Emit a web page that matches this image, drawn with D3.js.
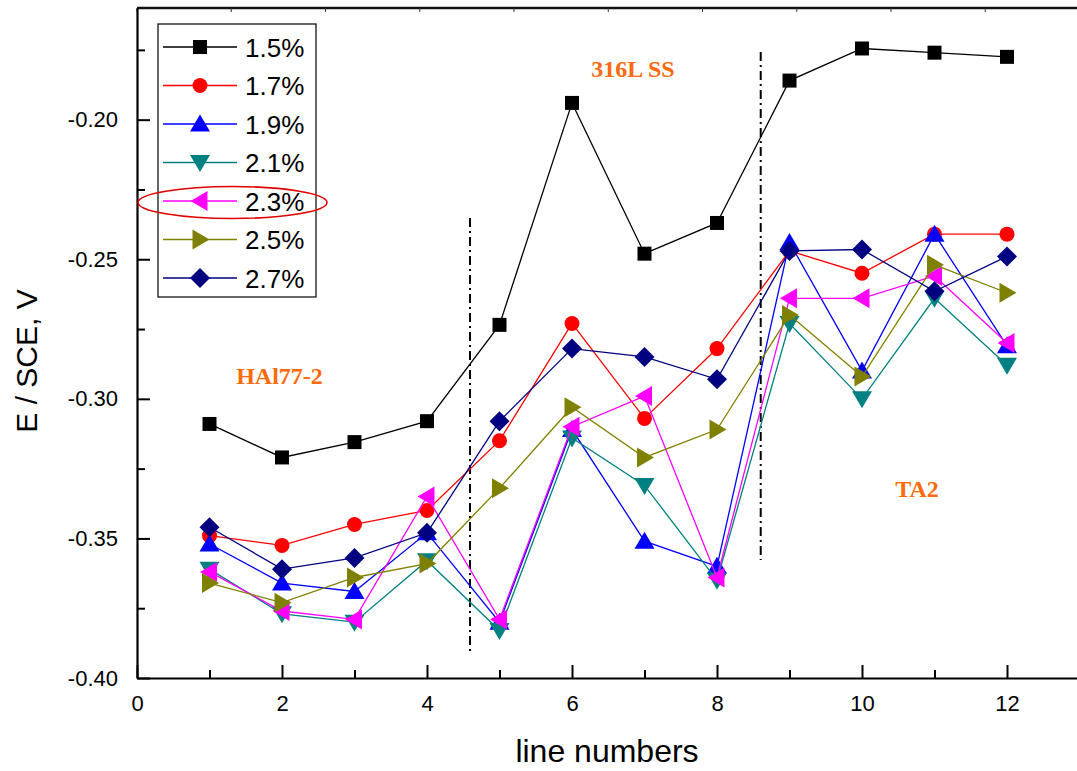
<!DOCTYPE html>
<html>
<head>
<meta charset="utf-8">
<script src="https://cdn.jsdelivr.net/npm/d3@7"></script>
<style>
  html, body { margin: 0; padding: 0; background: #fff; }
  svg { display: block; }
</style>
</head>
<body>
<svg id="chart" width="1077" height="771"></svg>
<script>
// Open-circuit potential per line number for each composition
const lineNumbers = [1, 2, 3, 4, 5, 6, 7, 8, 9, 10, 11, 12];
const seriesNames = ["1.5%", "1.7%", "1.9%", "2.1%", "2.3%", "2.5%", "2.7%"];
const s15 = [-0.309, -0.321, -0.3155, -0.308, -0.2735, -0.194, -0.248, -0.237, -0.186, -0.1745, -0.176, -0.1775];
const s17 = [-0.349, -0.3525, -0.345, -0.340, -0.315, -0.273, -0.307, -0.282, -0.247, -0.255, -0.241, -0.241];
const s19 = [-0.352, -0.366, -0.369, -0.348, -0.380, -0.311, -0.351, -0.360, -0.244, -0.290, -0.241, -0.281];
const s21 = [-0.361, -0.377, -0.380, -0.358, -0.383, -0.314, -0.331, -0.365, -0.273, -0.300, -0.264, -0.288];
const s23 = [-0.362, -0.376, -0.379, -0.335, -0.379, -0.310, -0.299, -0.364, -0.264, -0.264, -0.256, -0.280];
const s25 = [-0.366, -0.373, -0.364, -0.359, -0.332, -0.303, -0.321, -0.311, -0.270, -0.292, -0.252, -0.262];
const s27 = [-0.346, -0.361, -0.357, -0.348, -0.308, -0.282, -0.285, -0.293, -0.247, -0.2465, -0.2615, -0.249];
const seriesValues = [s15, s17, s19, s21, s23, s25, s27];

const xTickValues = [0, 2, 4, 6, 8, 10, 12];
const xMinorValues = [1, 3, 5, 7, 9, 11];
const yTickValues = [-0.40, -0.35, -0.30, -0.25, -0.20];
const yMinorValues = [-0.375, -0.325, -0.275, -0.225, -0.175];

// Region separators (x, y from, y to) and region labels
const separators = [[4.593, -0.2352, -0.3910], [8.603, -0.1758, -0.3577]];
const regionLabels = ["HAl77-2", "316L SS", "TA2"];
const regionAt = [[1.966, -0.2947], [6.84, -0.1847], [10.76, -0.3350]];

const colors = ["#000000", "#ff0000", "#0000ff", "#008080", "#ff00ff", "#808000", "#000080"];
const markerShapes = ["square", "circle", "up", "down", "left", "right", "diamond"];

const svg = d3.select("#chart");
const x = d3.scaleLinear().domain([0, 13]).range([137, 1079.5]);
const y = d3.scaleLinear().domain([-0.40, -0.16]).range([678, 8]);

const sansFont = "'Liberation Sans', Arial, Helvetica, sans-serif";
const serifFont = "'Liberation Serif', 'Times New Roman', serif";

function markerPath(shape) {
  switch (shape) {
    case "square":  return "M-7,-7H7V7H-7Z";
    case "circle":  return "M7.5,0A7.5,7.5 0 1,1 -7.5,0A7.5,7.5 0 1,1 7.5,0Z";
    case "up":      return "M0,-9.5L10,7.5L-10,7.5Z";
    case "down":    return "M0,9.5L10,-7.5L-10,-7.5Z";
    case "left":    return "M-9.5,0L7.5,-10L7.5,10Z";
    case "right":   return "M9.5,0L-7.5,-10L-7.5,10Z";
    case "diamond": return "M0,-10L10,0L0,10L-10,0Z";
  }
}

// Top frame line with its own fine ticks
svg.append("line")
  .attr("x1", x(0)).attr("x2", x(13))
  .attr("y1", y(-0.16)).attr("y2", y(-0.16))
  .attr("stroke", "#111").attr("stroke-width", 2.5);
const topTicks = d3.range(0, 11).map(i => i * 1.3);
svg.append("g").selectAll("line").data(topTicks).join("line")
  .attr("x1", d => x(d)).attr("x2", d => x(d))
  .attr("y1", y(-0.16)).attr("y2", y(-0.16) + 4)
  .attr("stroke", "#333").attr("stroke-width", 1);

// Axes
svg.append("g").attr("transform", `translate(0,${y(-0.40)})`)
  .call(d3.axisBottom(x).tickValues(xTickValues).tickSizeInner(-13).tickSizeOuter(0)
    .tickPadding(17).tickFormat(d3.format("d")));
svg.append("g").attr("transform", `translate(0,${y(-0.40)})`)
  .call(d3.axisBottom(x).tickValues(xMinorValues).tickSizeInner(-8).tickSizeOuter(0).tickFormat(""))
  .select(".domain").remove();

const yAxis = svg.append("g").attr("transform", `translate(${x(0)},0)`)
  .call(d3.axisLeft(y).tickValues(yTickValues).tickSizeInner(-13).tickSizeOuter(0)
    .tickPadding(19).tickFormat(d3.format(".2f")));
svg.append("g").attr("transform", `translate(${x(0)},0)`)
  .call(d3.axisLeft(y).tickValues(yMinorValues).tickSizeInner(-8).tickSizeOuter(0).tickFormat(""))
  .select(".domain").remove();

svg.selectAll(".domain").attr("stroke", "#000").attr("stroke-width", 2.2);
svg.selectAll(".tick line").attr("stroke", "#000").attr("stroke-width", 2);
svg.selectAll(".tick text").attr("font-family", sansFont).attr("font-size", 22).attr("fill", "#000");
yAxis.selectAll(".tick text").text(d => d3.format(".2f")(d).replace("−", "-"));

// Axis titles
svg.append("text")
  .attr("x", 607).attr("y", 762)
  .attr("text-anchor", "middle")
  .attr("font-family", sansFont).attr("font-size", 32)
  .text("line numbers");
svg.append("text")
  .attr("transform", "translate(37,361) rotate(-90)")
  .attr("text-anchor", "middle")
  .attr("font-family", sansFont).attr("font-size", 30)
  .text("E / SCE, V");

// Region separators (dash-dot)
svg.append("g").selectAll("line").data(separators).join("line")
  .attr("x1", d => x(d[0])).attr("x2", d => x(d[0]))
  .attr("y1", d => y(d[1])).attr("y2", d => y(d[2]))
  .attr("stroke", "#000").attr("stroke-width", 2)
  .attr("stroke-dasharray", "9,4,2,4");

// Region labels
svg.append("g").selectAll("text").data(regionLabels).join("text")
  .attr("x", (d, i) => x(regionAt[i][0]))
  .attr("y", (d, i) => y(regionAt[i][1]))
  .attr("text-anchor", "middle")
  .attr("font-family", serifFont).attr("font-weight", "bold").attr("font-size", 24)
  .attr("fill", "#ff6a0d")
  .text(d => d);

// Series: line then markers, drawn in order
const line = d3.line().x((d, i) => x(lineNumbers[i])).y(d => y(d));
seriesValues.forEach((vals, k) => {
  const g = svg.append("g");
  g.append("path").attr("d", line(vals))
    .attr("fill", "none").attr("stroke", colors[k]).attr("stroke-width", 1.3);
  g.selectAll("path.m").data(vals).join("path").attr("class", "m")
    .attr("d", markerPath(markerShapes[k]))
    .attr("transform", (d, i) => `translate(${x(lineNumbers[i])},${y(d)})`)
    .attr("fill", colors[k]);
});

// Legend
const legend = svg.append("g");
legend.append("rect")
  .attr("x", 158).attr("y", 24).attr("width", 158).attr("height", 273)
  .attr("fill", "#fff").attr("stroke", "#000").attr("stroke-width", 1.2);
const rowY = d3.scaleLinear().domain([0, 6]).range([47, 278]);
seriesNames.forEach((name, k) => {
  const cy = rowY(k);
  legend.append("line").attr("x1", 163).attr("x2", 237).attr("y1", cy).attr("y2", cy)
    .attr("stroke", colors[k]).attr("stroke-width", 1.3);
  legend.append("path").attr("d", markerPath(markerShapes[k]))
    .attr("transform", `translate(200,${cy})`).attr("fill", colors[k]);
  legend.append("text").attr("x", 245).attr("y", cy + 9.5)
    .attr("font-family", sansFont).attr("font-size", 26).text(name);
});

// Highlight around the 2.3% entry
svg.append("ellipse")
  .attr("cx", 232.5).attr("cy", rowY(4) + 1.5).attr("rx", 94.5).attr("ry", 16)
  .attr("fill", "none").attr("stroke", "#e00000").attr("stroke-width", 1.6);
</script>
</body>
</html>
